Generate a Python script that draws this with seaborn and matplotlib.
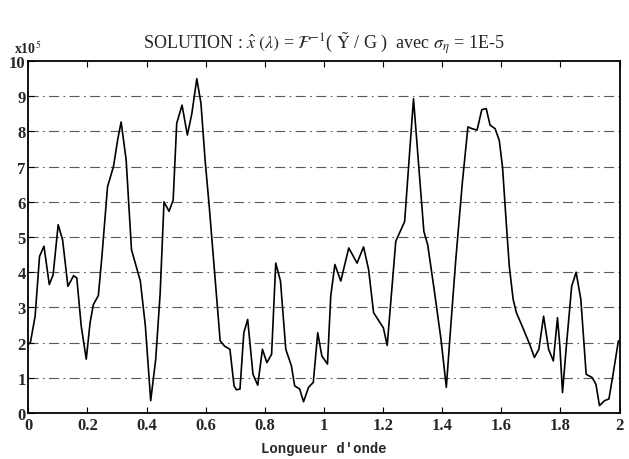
import numpy as np
import pandas as pd
import seaborn as sns
import matplotlib
matplotlib.use("Agg")
import matplotlib.pyplot as plt

# values (y in units of 1e5)
wavelength = [0.0, 0.007, 0.023, 0.038, 0.053, 0.071, 0.084, 0.101, 0.116, 0.134,
              0.153, 0.164, 0.179, 0.196, 0.209, 0.220, 0.237, 0.249, 0.268, 0.288,
              0.303, 0.314, 0.331, 0.349, 0.379, 0.396, 0.414, 0.431, 0.446, 0.459,
              0.476, 0.490, 0.502, 0.520, 0.538, 0.553, 0.570, 0.584, 0.598, 0.612,
              0.634, 0.649, 0.664, 0.682, 0.696, 0.704, 0.716, 0.729, 0.742, 0.760,
              0.776, 0.792, 0.807, 0.823, 0.837, 0.853, 0.871, 0.890, 0.901, 0.918,
              0.931, 0.948, 0.964, 0.979, 0.993, 1.012, 1.023, 1.037, 1.057, 1.084,
              1.112, 1.134, 1.151, 1.168, 1.201, 1.214, 1.243, 1.273, 1.288, 1.303,
              1.320, 1.338, 1.351, 1.373, 1.396, 1.414, 1.429, 1.446, 1.468, 1.487,
              1.501, 1.518, 1.534, 1.549, 1.562, 1.579, 1.593, 1.604, 1.616, 1.627,
              1.640, 1.651, 1.673, 1.696, 1.712, 1.727, 1.743, 1.760, 1.776, 1.790,
              1.798, 1.807, 1.820, 1.838, 1.853, 1.869, 1.887, 1.907, 1.920, 1.932,
              1.949, 1.964, 1.979, 1.996]
amplitude = [1.95, 2.0, 2.75, 4.45, 4.74, 3.65, 3.93, 5.35, 4.92, 3.6,
             3.9, 3.84, 2.47, 1.53, 2.57, 3.08, 3.34, 4.45, 6.43, 7.0,
             7.8, 8.27, 7.19, 4.64, 3.75, 2.47, 0.35, 1.53, 3.4, 6.0,
             5.73, 6.05, 8.23, 8.75, 7.9, 8.5, 9.5, 8.8, 7.19, 5.87,
             3.6, 2.05, 1.9, 1.81, 0.77, 0.66, 0.68, 2.28, 2.66, 1.1,
             0.79, 1.81, 1.43, 1.67, 4.26, 3.75, 1.81, 1.34, 0.77, 0.68,
             0.32, 0.73, 0.87, 2.28, 1.62, 1.39, 3.32, 4.22, 3.75, 4.69,
             4.26, 4.72, 4.08, 2.85, 2.42, 1.92, 4.88, 5.44, 7.19, 8.93,
             7.09, 5.16, 4.78, 3.5, 2.09, 0.73, 2.47, 4.36, 6.53, 8.13,
             8.08, 8.04, 8.62, 8.65, 8.18, 8.08, 7.75, 7.0, 5.49, 4.17,
             3.23, 2.85, 2.42, 1.95, 1.58, 1.81, 2.75, 1.81, 1.48, 2.71,
             1.9, 0.58, 1.9, 3.6, 4.0, 3.23, 1.1, 1.01, 0.82, 0.21,
             0.35, 0.4, 1.15, 2.05]

x_ticks = [0, 0.2, 0.4, 0.6, 0.8, 1.0, 1.2, 1.4, 1.6, 1.8, 2.0]
x_tick_labels = ["0", "0.2", "0.4", "0.6", "0.8", "1", "1.2", "1.4", "1.6", "1.8", "2"]
y_ticks = list(range(0, 11))

sns.set_style("white")
plt.rcParams["font.family"] = ["Liberation Serif", "DejaVu Serif"]
plt.rcParams["mathtext.fontset"] = "stix"

df = pd.DataFrame({"lambda": wavelength, "x": amplitude})

fig = plt.figure(figsize=(6.29, 4.60), dpi=100)
ax = fig.add_axes([0.045, 0.1, 0.94, 0.765])

sns.lineplot(data=df, x="lambda", y="x", color="black", linewidth=1.2, ax=ax)

# dash-dot horizontal grid
for yv in y_ticks[1:-1]:
    ax.axhline(yv, color="0.35", linewidth=0.8, linestyle=(0, (9, 4, 1.5, 4)), zorder=0)

ax.set_xlim(0, 2)
ax.set_ylim(0, 10)
ax.set_xticks(x_ticks)
ax.set_xticklabels(x_tick_labels)
ax.set_yticks(y_ticks)
for lab in ax.get_xticklabels() + ax.get_yticklabels():
    lab.set_fontweight("bold")
    lab.set_fontsize(12)
ax.tick_params(axis="x", direction="in", top=True, bottom=True, length=4, pad=3, color="black")
ax.tick_params(axis="y", direction="in", left=True, length=4, pad=2, color="black")
for side in ax.spines.values():
    side.set_color("black")
    side.set_linewidth(1.3)

ax.set_xlabel("Longueur d'onde", family="Liberation Mono", fontweight="bold", fontsize=10, labelpad=6)
ax.set_ylabel("")
fig.text(0.022, 0.875, r"x10$^5$", ha="left", va="bottom", fontsize=10, fontweight="bold")
ax.set_title(r"SOLUTION : $\hat{x}\;(\lambda)$ = $\mathcal{F}^{-1}$( $\tilde{\mathrm{Y}}$ / G )  avec $\sigma_\eta$ = 1E-5",
             fontsize=13, pad=10)

fig.savefig("out.png", dpi=100)
